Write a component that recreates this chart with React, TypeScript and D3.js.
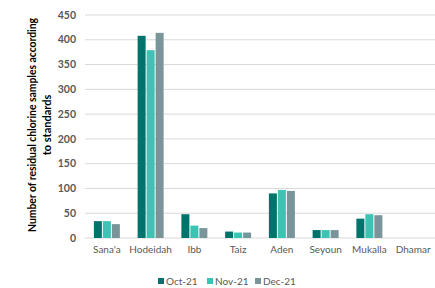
import React from "react";
import * as d3 from "d3";

const categories = ["Sana'a", "Hodeidah", "Ibb", "Taiz", "Aden", "Seyoun", "Mukalla", "Dhamar"];
const seriesNames = ["Oct-21", "Nov-21", "Dec-21"];
const oct21 = [34, 408, 48, 13, 90, 16, 39, 0];
const nov21 = [34, 379, 25, 11, 97, 16, 48, 0];
const dec21 = [28, 414, 20, 11, 95, 16, 46, 0];
const yTicks = [0, 50, 100, 150, 200, 250, 300, 350, 400, 450];
const colors = ["#00736d", "#3cc3b3", "#7a9599"];

export default function App() {
  const W = 435, H = 288;
  const left = 85, right = 435, top = 15, bottom = 238;
  const x = d3.scaleBand<string>().domain(categories).range([left, right]).paddingInner(0).paddingOuter(0);
  const y = d3.scaleLinear().domain([0, 450]).range([bottom, top]);
  const series = [oct21, nov21, dec21];
  const barW = 8, gap = 1;
  const font = "Lato, 'Open Sans', sans-serif";
  const legendX = [158, 207, 255];
  return (
    <svg width={W} height={H} style={{ position: "absolute", left: 0, top: 0 }}>
      <rect x={0} y={0} width={W} height={H} fill="#fff" />
      {yTicks.map((t) => (
        <g key={t}>
          <line x1={left} x2={right} y1={y(t)} y2={y(t)} stroke="#d9d9d9" strokeWidth={1} />
          <text x={76} y={y(t)} dy="0.35em" textAnchor="end" fontFamily={font} fontSize={10.5} fontWeight={700} fill="#595959">{t}</text>
        </g>
      ))}
      {categories.map((c, i) => {
        const cx = (x(c) as number) + x.bandwidth() / 2;
        return (
          <g key={c}>
            {series.map((s, k) => {
              const bx = cx - (3 * barW + 2 * gap) / 2 + k * (barW + gap);
              return s[i] > 0 ? (
                <rect key={k} x={bx} y={y(s[i])} width={barW} height={y(0) - y(s[i])} fill={colors[k]} />
              ) : null;
            })}
            <text x={cx} y={253} textAnchor="middle" fontFamily={font} fontSize={10} fill="#595959">{c}</text>
          </g>
        );
      })}
      <g transform="translate(32,125) rotate(-90)">
        <text x={0} y={0} dy="0.35em" textAnchor="middle" fontFamily={font} fontSize={11} fontWeight={700} fill="#000" textLength={214} lengthAdjust="spacingAndGlyphs">Number of residual chlorine samples according</text>
        <text x={0} y={15} dy="0.35em" textAnchor="middle" fontFamily={font} fontSize={11} fontWeight={700} fill="#000">to standards</text>
      </g>
      {seriesNames.map((n, k) => (
        <g key={n}>
          <rect x={legendX[k]} y={278} width={6} height={6} fill={colors[k]} />
          <text x={legendX[k] + 8} y={281.5} dy="0.35em" fontFamily={font} fontSize={10} fill="#595959">{n}</text>
        </g>
      ))}
    </svg>
  );
}
